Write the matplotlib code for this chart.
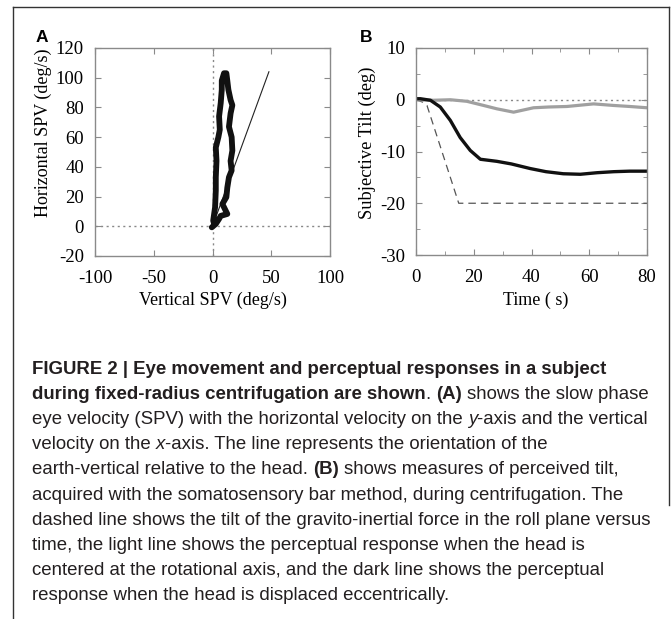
import numpy as np
import matplotlib
matplotlib.use('Agg')
import matplotlib.pyplot as plt
from matplotlib import font_manager
from matplotlib.lines import Line2D
from matplotlib.ticker import MultipleLocator

plt.rcParams['axes.unicode_minus'] = False

W, H = 671, 619

# Panel A: eye velocity loop (deg/s)
loop_vert = [1.4, 0.6, 2.2, 2.8, 2.8, 3.4, 2.8, 5.0, 6.2, 5.6, 7.0, 7.9, 7.9, 9.8, 11.8,
             12.6, 13.5, 15.4, 16.9, 15.4, 14.0, 16.3, 16.9, 15.4, 16.3, 14.0, 12.6, 11.8,
             8.4, 9.8, 12.6, 7.0, 5.6, 2.8, -0.6]
loop_horiz = [1.6, 3.8, 12.8, 24, 33, 44, 53, 60, 65, 74, 83, 92, 98, 103, 103,
              98, 92, 85, 81.5, 76, 67, 60, 51, 44, 37.6, 33, 26, 19.6,
              15, 12.8, 8.3, 7, 5, 1.6, -0.7]
# earth-vertical orientation line
ev_vert = [0, 48]
ev_horiz = [0, 104]

# Panel B: subjective tilt (deg) vs time (s)
gif_t = [0, 2.5, 3.8, 14.8, 80]
gif_tilt = [0, -0.5, -1.1, -20, -20]
ecc_t = [0, 1.5, 5, 8.4, 11.9, 15.3, 18.8, 22.3, 28, 33, 39.6, 45, 51, 56.9, 62.7, 68.5, 74, 80]
ecc_tilt = [0.2, 0.2, -0.1, -1.4, -4, -7.3, -9.8, -11.5, -11.9, -12.4, -13.3, -13.9,
            -14.3, -14.4, -14.1, -13.9, -13.8, -13.8]
cen_t = [0, 6, 11.9, 17.6, 23.4, 28, 33.8, 40.7, 46, 52.3, 61.5, 68.4, 74, 80]
cen_tilt = [0, -0.1, 0, -0.3, -1.1, -1.75, -2.4, -1.55, -1.4, -1.3, -0.8, -1.1, -1.3, -1.55]

SERIF = 'Liberation Serif'
names = {f.name for f in font_manager.fontManager.ttflist}
CAP_FONT = 'Liberation Sans Narrow' if 'Liberation Sans Narrow' in names else 'Liberation Sans'
TXT = '#231f20'
SPINE = '#8a8a8a'


def fx(x):
    return x / W


def fy(y):
    return 1 - y / H


def px_axes(left, top, right, bottom):
    return [fx(left), fy(bottom), (right - left) / W, (bottom - top) / H]


fig = plt.figure(figsize=(W / 100, H / 100), dpi=100)

# frame lines round the figure
for xs, ys in [((12.7, 669), (7, 7)), ((12.7, 12.7), (7, 619)), ((669, 669), (7, 505))]:
    fig.add_artist(Line2D([fx(v) for v in xs], [fy(v) for v in ys], color='#333333', lw=1.0))


def style_axes(ax):
    for s in ax.spines.values():
        s.set_color(SPINE)
        s.set_linewidth(1.0)
    ax.tick_params(which='both', direction='in', top=True, right=True, color=SPINE,
                   labelsize=13.5, labelcolor='black')
    ax.tick_params(which='major', length=4)
    ax.tick_params(which='minor', length=3)
    ax.tick_params(axis='x', pad=10)
    ax.tick_params(axis='y', pad=8)
    for lab in ax.get_xticklabels() + ax.get_yticklabels():
        lab.set_fontfamily(SERIF)


# ---- Panel A
axA = fig.add_axes(px_axes(95, 48, 330, 256))
axA.axhline(0, color='#888888', ls=(0, (1.5, 2.5)), lw=1.0)
axA.axvline(0, color='#888888', ls=(0, (1.5, 2.5)), lw=1.0)
axA.plot(ev_vert, ev_horiz, color='#222222', lw=0.8)
axA.plot(loop_vert, loop_horiz, color='#111111', lw=4.2, solid_joinstyle='round',
         solid_capstyle='round')
axA.set_xlim(-100, 100)
axA.set_ylim(-20, 120)
axA.set_xticks([-100, -50, 0, 50, 100])
axA.set_yticks(np.arange(-20, 121, 20))
style_axes(axA)

# ---- Panel B
axB = fig.add_axes(px_axes(416, 48, 647, 255))
axB.axhline(0, color='#888888', ls=(0, (1.5, 2.5)), lw=1.0)
axB.plot(gif_t, gif_tilt, color='#555555', lw=0.9, ls=(0, (6, 4)))
axB.plot(cen_t, cen_tilt, color='#a0a0a0', lw=2.3)
axB.plot(ecc_t, ecc_tilt, color='#111111', lw=2.4)
axB.set_xlim(0, 80)
axB.set_ylim(-30, 10)
axB.set_xticks([0, 20, 40, 60, 80])
axB.set_yticks([-30, -20, -10, 0, 10])
axB.xaxis.set_minor_locator(MultipleLocator(10))
axB.yaxis.set_minor_locator(MultipleLocator(5))
style_axes(axB)

# axis labels
fig.text(fx(43), fy(133), 'Horizontal SPV (deg/s)', rotation=90, ha='center', va='center',
         family=SERIF, fontsize=13)
fig.text(fx(213), fy(300), 'Vertical SPV (deg/s)', ha='center', va='center',
         family=SERIF, fontsize=13)
fig.text(fx(367), fy(143), 'Subjective Tilt (deg)', rotation=90, ha='center', va='center',
         family=SERIF, fontsize=13.3)
fig.text(fx(536), fy(300), 'Time ( s)', ha='center', va='center', family=SERIF, fontsize=13)

# panel letters
fig.text(fx(42), fy(37.5), 'A', ha='center', va='center', family='Liberation Sans',
         fontweight='bold', fontsize=12.5)
fig.text(fx(366), fy(37), 'B', ha='center', va='center', family='Liberation Sans',
         fontweight='bold', fontsize=12.5)

# ---- caption
caption = [
    [("FIGURE 2 | Eye movement and perceptual responses in a subject", 'bold', 'normal')],
    [("during fixed-radius centrifugation are shown", 'bold', 'normal'), (". ", 'normal', 'normal'),
     ("(A)", 'bold', 'normal'), (" shows the slow phase", 'normal', 'normal')],
    [("eye velocity (SPV) with the horizontal velocity on the ", 'normal', 'normal'),
     ("y", 'normal', 'italic'), ("-axis and the vertical", 'normal', 'normal')],
    [("velocity on the ", 'normal', 'normal'), ("x", 'normal', 'italic'),
     ("-axis. The line represents the orientation of the", 'normal', 'normal')],
    [("earth-vertical relative to the head. ", 'normal', 'normal'), ("(B)", 'bold', 'normal'),
     (" shows measures of perceived tilt,", 'normal', 'normal')],
    [("acquired with the somatosensory bar method, during centrifugation. The", 'normal', 'normal')],
    [("dashed line shows the tilt of the gravito-inertial force in the roll plane versus", 'normal', 'normal')],
    [("time, the light line shows the perceptual response when the head is", 'normal', 'normal')],
    [("centered at the rotational axis, and the dark line shows the perceptual", 'normal', 'normal')],
    [("response when the head is displaced eccentrically.", 'normal', 'normal')],
]

renderer = fig.canvas.get_renderer()


def text_width(s, fs, weight='normal', style='normal'):
    t = fig.text(0, 0, s, fontsize=fs, family=CAP_FONT, fontweight=weight, fontstyle=style)
    w = t.get_window_extent(renderer).width
    t.remove()
    return w


# fit the font size so the widest line spans the same width as in the figure
probe = text_width(caption[6][0][0], 13)
cap_fs = 13 * 621 / probe
space_w = text_width("a a", cap_fs) - text_width("aa", cap_fs)

for i, segs in enumerate(caption):
    x = 32.0
    base = 374 + 25.1 * i
    for s, weight, style in segs:
        core = s.strip(' ')
        lead = len(s) - len(s.lstrip(' '))
        trail = len(s) - len(s.rstrip(' '))
        x += lead * space_w
        t = fig.text(fx(x), fy(base), core, fontsize=cap_fs, family=CAP_FONT,
                     fontweight=weight, fontstyle=style, color=TXT, ha='left', va='baseline')
        x += t.get_window_extent(renderer).width + trail * space_w

fig.savefig('out.png', dpi=100)
